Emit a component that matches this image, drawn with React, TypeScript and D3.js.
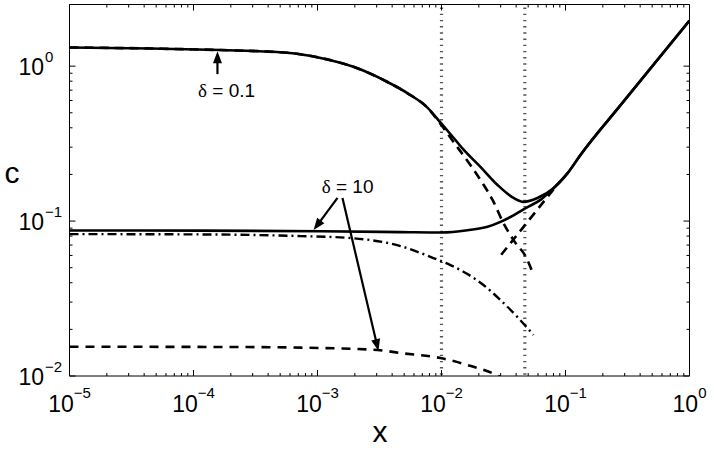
import React from "react";
import * as d3 from "d3";

// ---- data ----
const xDomain = [1e-5, 1];
const yDomain = [0.01, 2.5];

const xMajorTicks = [1e-5, 1e-4, 1e-3, 1e-2, 1e-1, 1];
const xTickExponents = ["−5", "−4", "−3", "−2", "−1", "0"];
const yMajorTicks = [1e-2, 1e-1, 1];
const yTickExponents = ["−2", "−1", "0"];

const solid01X = [1e-5, 4.5e-5, 1.65e-4, 5.7e-4, 1.06e-3, 1.95e-3, 3.67e-3, 5.3e-3, 7.7e-3, 1e-2, 1.25e-2, 1.5e-2, 2.07e-2, 2.83e-2, 3.81e-2, 4.58e-2, 5.94e-2, 8.0e-2, 0.104, 0.132, 0.278, 1.0];
const solid01C = [1.32, 1.30, 1.27, 1.22, 1.13, 0.99, 0.79, 0.67, 0.54, 0.425, 0.345, 0.29, 0.223, 0.171, 0.141, 0.133, 0.141, 0.163, 0.204, 0.267, 0.56, 1.97];

const dashed01X = [1e-5, 4.5e-5, 1.65e-4, 5.7e-4, 1.06e-3, 1.95e-3, 3.67e-3, 5.3e-3, 7.7e-3, 1e-2, 1.23e-2, 1.71e-2, 2.14e-2, 2.58e-2, 3.16e-2, 3.81e-2, 4.94e-2, 5.52e-2];
const dashed01C = [1.32, 1.30, 1.27, 1.22, 1.13, 0.99, 0.79, 0.67, 0.54, 0.415, 0.33, 0.230, 0.176, 0.137, 0.097, 0.0754, 0.056, 0.0448];

const risingX = [0.0303, 0.09];
const risingC = [0.0606, 0.18];

const solid10X = [1e-5, 1.14e-4, 1.06e-3, 4.67e-3, 1e-2, 1.62e-2, 2.35e-2, 2.99e-2, 3.81e-2, 4.94e-2, 6.28e-2, 8.0e-2, 0.104, 0.132, 0.278, 1.0];
const solid10C = [0.087, 0.0868, 0.086, 0.0849, 0.0843, 0.0872, 0.0919, 0.0989, 0.109, 0.123, 0.137, 0.163, 0.204, 0.267, 0.56, 1.97];

const dashdot10X = [1e-5, 1.14e-4, 7.3e-4, 1.85e-3, 4.67e-3, 8.6e-3, 1.18e-2, 1.62e-2, 2.18e-2, 2.99e-2, 4.1e-2, 5.52e-2];
const dashdot10C = [0.0824, 0.082, 0.080, 0.0777, 0.069, 0.0577, 0.052, 0.0455, 0.0387, 0.0309, 0.024, 0.0184];

const dashed10X = [1e-5, 2.39e-4, 7.3e-4, 3.05e-3, 4.67e-3, 9.8e-3, 1.62e-2, 2.83e-2, 3.1e-2];
const dashed10C = [0.01545, 0.01538, 0.01524, 0.01472, 0.01407, 0.01306, 0.01178, 0.01007, 0.0097];

const verticalLinesX = [0.01, 0.047];

// annotations in data coordinates
const label01 = { text: "0.1", x: 1.85e-4, c: 0.631 };
const arrow01 = { fromX: 1.56e-4, fromC: 0.888, toX: 1.56e-4, toC: 1.25 };
const label10 = { text: "10", x: 1.75e-3, c: 0.152 };
const arrows10 = [
  { fromX: 1.45e-3, fromC: 0.141, toX: 9.3e-4, toC: 0.0875 },
  { fromX: 1.59e-3, fromC: 0.141, toX: 3.1e-3, toC: 0.01449 },
];

// ---- layout ----
const W = 714, H = 454;
const L = 69.5, R = 689.5, T = 4.5, B = 376;
const FONT = "'Liberation Sans', Arial, Helvetica, sans-serif";

export default function App() {
  const x = d3.scaleLog().domain(xDomain).range([L, R]);
  const y = d3.scaleLog().domain(yDomain).range([B, T]);

  const mk = (xs: number[], cs: number[]) =>
    d3.line<number>().x((_, i) => x(xs[i])).y((_, i) => y(cs[i])).curve(d3.curveMonotoneX)(xs) || "";

  const minorX: number[] = [];
  for (let e = -5; e < 0; e++) for (let k = 2; k <= 9; k++) minorX.push(k * Math.pow(10, e));
  const minorY: number[] = [];
  for (let e = -2; e < 0; e++) for (let k = 2; k <= 9; k++) minorY.push(k * Math.pow(10, e));

  const arrowHead = (fx: number, fy: number, tx: number, ty: number, len = 12, hw = 4.5) => {
    const dx = tx - fx, dy = ty - fy;
    const d = Math.hypot(dx, dy);
    const ux = dx / d, uy = dy / d;
    const bx = tx - ux * len, by = ty - uy * len;
    const px = -uy, py = ux;
    return {
      shaftEnd: [bx + ux * 2, by + uy * 2],
      head: `M${tx},${ty}L${bx + px * hw},${by + py * hw}L${bx - px * hw},${by - py * hw}Z`,
    };
  };

  const renderArrow = (a: { fromX: number; fromC: number; toX: number; toC: number }, i: number) => {
    const fx = x(a.fromX), fy = y(a.fromC), tx = x(a.toX), ty = y(a.toC);
    const h = arrowHead(fx, fy, tx, ty);
    return (
      <g key={i}>
        <line x1={fx} y1={fy} x2={h.shaftEnd[0]} y2={h.shaftEnd[1]} stroke="#000" strokeWidth={2.2} />
        <path d={h.head} fill="#000" />
      </g>
    );
  };

  return (
    <svg width={W} height={H} style={{ position: "absolute", left: 0, top: 0, background: "#fff" }} fontFamily={FONT}>
      <defs>
        <clipPath id="plotclip">
          <rect x={L} y={T} width={R - L} height={B - T} />
        </clipPath>
      </defs>
      <rect x={0} y={0} width={W} height={H} fill="#fff" />

      {/* vertical dotted lines */}
      {verticalLinesX.map((v, i) => (
        <line key={i} x1={x(v)} x2={x(v)} y1={T + 3} y2={B} stroke="#555" strokeWidth={3.2} strokeDasharray="1.4,4.8" />
      ))}

      <g clipPath="url(#plotclip)" fill="none" stroke="#000">
        <path d={mk(dashed01X, dashed01C)} strokeWidth={2.6} strokeDasharray="9,6" />
        <path d={mk(risingX, risingC)} strokeWidth={2.6} strokeDasharray="9,6" />
        <path d={mk(dashdot10X, dashdot10C)} strokeWidth={2.4} strokeDasharray="9,4,2,4" />
        <path d={mk(dashed10X, dashed10C)} strokeWidth={2.6} strokeDasharray="9,7" />
        <path d={mk(solid10X, solid10C)} strokeWidth={2.6} />
        <path d={mk(solid01X, solid01C)} strokeWidth={2.6} />
      </g>

      {/* axes box */}
      <line x1={L} x2={R} y1={T} y2={T} stroke="#000" strokeWidth={1} />
      <line x1={L} x2={R} y1={B} y2={B} stroke="#000" strokeWidth={1} />
      <line x1={L} x2={L} y1={T} y2={B} stroke="#000" strokeWidth={1} />
      <line x1={R} x2={R} y1={T} y2={B} stroke="#000" strokeWidth={1} />

      {/* ticks */}
      <g stroke="#000" strokeWidth={1}>
        {xMajorTicks.map((t, i) => (
          <g key={"xm" + i}>
            <line x1={x(t)} x2={x(t)} y1={B} y2={B - 6} />
            <line x1={x(t)} x2={x(t)} y1={T} y2={T + 6} />
          </g>
        ))}
        {minorX.map((t, i) => (
          <g key={"xn" + i}>
            <line x1={x(t)} x2={x(t)} y1={B} y2={B - 3} />
            <line x1={x(t)} x2={x(t)} y1={T} y2={T + 3} />
          </g>
        ))}
        {yMajorTicks.map((t, i) => (
          <g key={"ym" + i}>
            <line x1={L} x2={L + 6} y1={y(t)} y2={y(t)} />
            <line x1={R} x2={R - 6} y1={y(t)} y2={y(t)} />
          </g>
        ))}
        {minorY.map((t, i) => (
          <g key={"yn" + i}>
            <line x1={L} x2={L + 3} y1={y(t)} y2={y(t)} />
            <line x1={R} x2={R - 3} y1={y(t)} y2={y(t)} />
          </g>
        ))}
      </g>

      {/* x tick labels */}
      {xMajorTicks.map((t, i) => (
        <text key={"xl" + i} x={x(t)} y={412} textAnchor="middle" fontSize={23} fill="#000">
          <tspan>10</tspan>
          <tspan fontSize={15} dy={-14}>{xTickExponents[i]}</tspan>
        </text>
      ))}
      {/* y tick labels */}
      {yMajorTicks.map((t, i) => (
        <g key={"yl" + i}>
          <text x={44} y={y(t) + 9} textAnchor="end" fontSize={23} fill="#000">10</text>
          <text x={45} y={y(t) - 4} textAnchor="start" fontSize={15} fill="#000">{yTickExponents[i]}</text>
        </g>
      ))}

      {/* axis labels */}
      <text x={380} y={442} textAnchor="middle" fontSize={30} fill="#000">x</text>
      <text x={12} y={183} textAnchor="middle" fontSize={30} fill="#000">c</text>

      {/* annotations */}
      {renderArrow(arrow01, 0)}
      <text x={x(label01.x)} y={y(label01.c)} textAnchor="middle" fontSize={19} fill="#000">
        <tspan fontFamily="'Liberation Serif', 'DejaVu Serif', serif">δ</tspan>
        <tspan> = {label01.text}</tspan>
      </text>
      {arrows10.map((a, i) => renderArrow(a, i + 1))}
      <text x={x(label10.x)} y={y(label10.c)} textAnchor="middle" fontSize={19} fill="#000">
        <tspan fontFamily="'Liberation Serif', 'DejaVu Serif', serif">δ</tspan>
        <tspan> = {label10.text}</tspan>
      </text>
    </svg>
  );
}
